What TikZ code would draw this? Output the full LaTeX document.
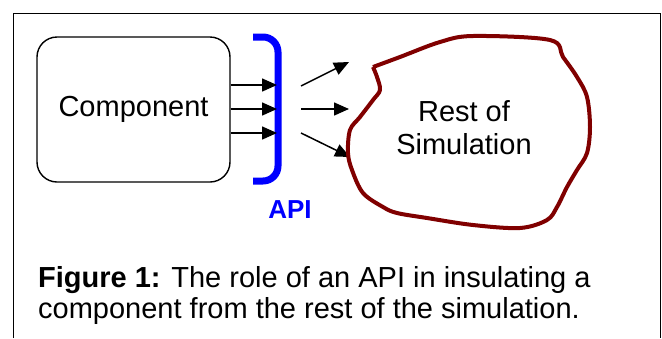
\documentclass[tikz,border=0pt]{standalone}
\usepackage{fontspec}
\setmainfont{Liberation Sans}
\usetikzlibrary{arrows.meta,positioning}
\definecolor{ApiBlue}{HTML}{0000FF}
\definecolor{Blob}{HTML}{800000}

\begin{document}
\begin{tikzpicture}[
  x=1pt,y=-1pt,
  txt/.style={font=\fontsize{29}{33}\selectfont,inner sep=0pt},
  compbox/.style={draw,rounded corners=20pt,line width=1.4pt,minimum width=193pt,minimum height=145pt,txt},
  arrow/.style={-{Triangle[length=15pt,width=13pt]},line width=1.5pt},
  api/.style={draw=ApiBlue,line width=7pt,rounded corners=15pt},
  blob/.style={draw=Blob,line width=4pt,line join=round}
]
\useasboundingbox (0,0) rectangle (662,338);
% outer frame, open at the bottom
\draw[line width=1.5pt] (13.5,338) -- (13.5,13.5) -- (660.5,13.5) -- (660.5,338);

\node[compbox] (comp) at (133.5,109.5) {Component};
\node[txt,align=center] (rest) at (464,128) {Rest of\\Simulation};
\node[txt,anchor=base,text=ApiBlue,font=\fontsize{26}{30}\selectfont\bfseries] (apilbl) at (290,218) {API};

% the API bracket
\draw[api] (253,37) -- (278,37) -- (278,181) -- (253,181);

% calls into the API
\foreach \i/\y in {1/85,2/109,3/133} {
  \coordinate (in\i) at (277,\y);
  \draw[arrow] (comp.east |- in\i) -- (in\i);
}

% calls out to the rest of the simulation
\coordinate (out1) at (301,86);
\coordinate (out2) at (301,109);
\coordinate (out3) at (301,133);
\coordinate (tip1) at (349,62);
\coordinate (tip2) at (349,109);
\coordinate (tip3) at (350,157);
\foreach \i in {1,2,3}
  \draw[arrow] (out\i) -- (tip\i);

% rest of simulation outline
\draw[blob] plot[smooth,tension=0.55] coordinates {
  (373,67) (400,57) (440,42) (473,36) (550,40) (563,57) (577,77) (587,97)
  (590,127) (587,153) (577,170) (567,187) (557,207) (547,220) (520,228)
  (473,225) (427,218) (397,213) (383,207) (363,193) (352,170) (348,153)
  (350,130) (360,117) (373,100) (380,90) (377,77) (373,67)};

\node[txt,anchor=base west,align=left,font=\fontsize{29}{31}\selectfont] (caption) at (38,318)
  {\textbf{Figure 1:} The role of an API in insulating a\\component from the rest of the simulation.};
\end{tikzpicture}
\end{document}
